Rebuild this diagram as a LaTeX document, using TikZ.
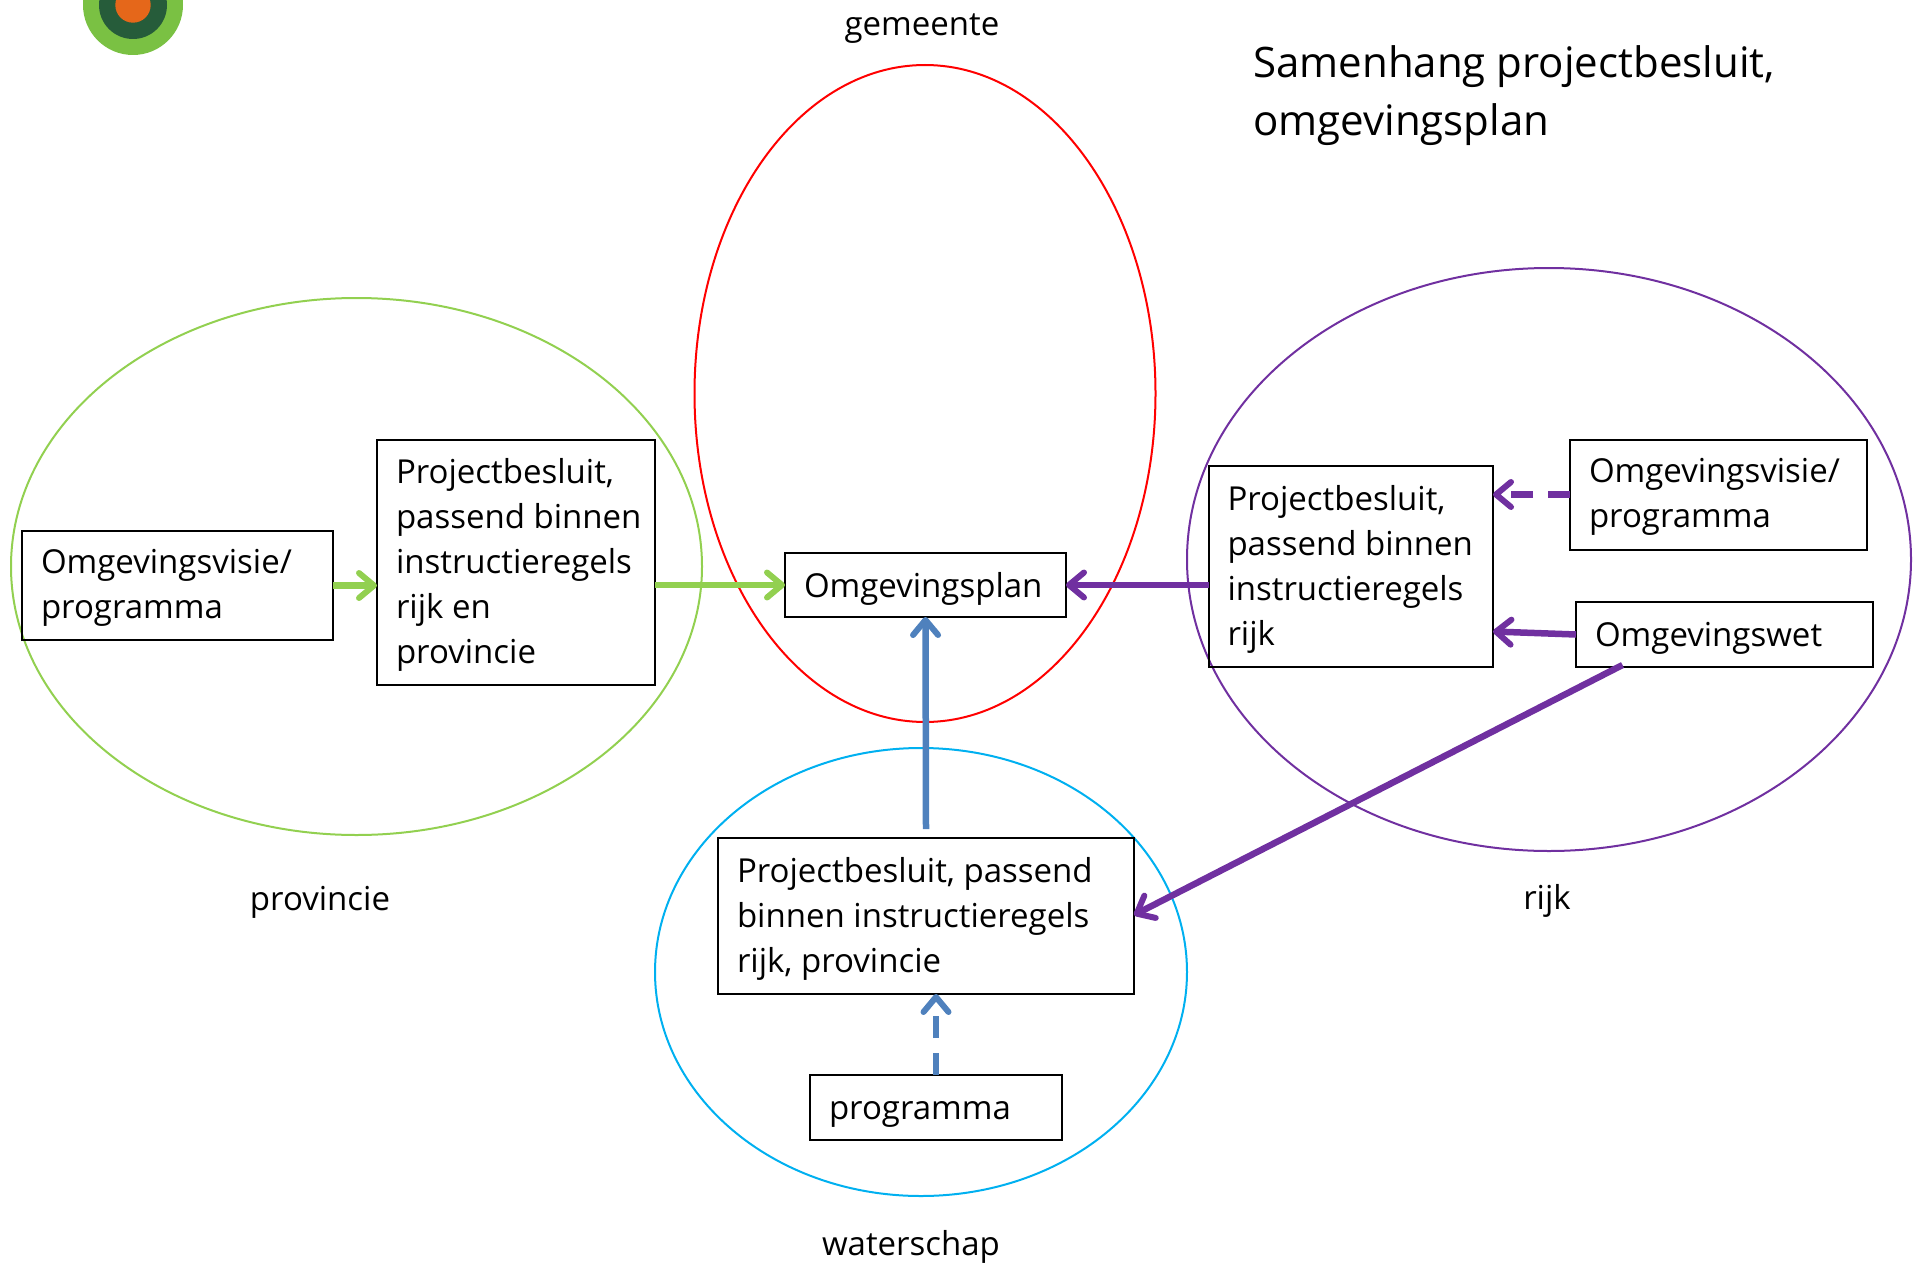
\documentclass[tikz,border=0pt]{standalone}
\usepackage{fontspec}
\setmainfont{Open Sans}
\usetikzlibrary{arrows.meta,shapes.geometric,calc}
\definecolor{cgreen}{HTML}{92D050}
\definecolor{cpurple}{HTML}{7030A0}
\definecolor{cblue}{HTML}{4F81BD}
\definecolor{ccyan}{HTML}{00B0F0}
\definecolor{lgreen}{HTML}{7AC143}
\definecolor{ldark}{HTML}{265C3A}
\definecolor{lorange}{HTML}{E5671A}
\tikzset{
  x=1pt,y=-1pt,
  bodyfont/.style={font=\fontsize{33}{45}\selectfont},
  infobox/.style={draw=black,line width=2pt,rectangle,inner sep=0pt,outer sep=0pt},
  boxtext/.style={inner sep=0pt,outer sep=0pt,align=left,anchor=west,bodyfont},
  zone/.style={ellipse,draw,line width=2pt,inner sep=0pt,outer sep=0pt},
  label text/.style={bodyfont,inner sep=0pt},
  flow/.style={line width=6.5pt,-{Straight Barb[length=15pt,width=25pt,line width=6pt,round]}},
  dashflow/.style={flow,dash pattern=on 22pt off 15pt},
}
\newcommand{\boxat}[7][2.5]{% shift, name, x0, y0, x1, y1, text
  \node[infobox,minimum width=#5pt-#3pt,minimum height=#6pt-#4pt] (#2) at ({(#3+#5)/2},{(#4+#6)/2}) {};
  \node[boxtext] (#2text) at ($(#2.west)+(19,#1)$) {#7};}
\begin{document}
\begin{tikzpicture}
\clip (0,0) rectangle (1917,1263);
% logo
\fill[lgreen] (133,5) circle (50);
\fill[ldark] (133,5) circle (34);
\fill[lorange] (133,5) circle (17.7);
% zones
\node[zone,draw=cgreen,minimum width=691pt,minimum height=537pt] (zprov) at (356.5,566.5) {};
\node[zone,draw=red,minimum width=461pt,minimum height=657pt] (zgem) at (925,393.5) {};
\node[zone,draw=cpurple,minimum width=724pt,minimum height=583pt] (zrijk) at (1549,559.5) {};
\node[zone,draw=ccyan,minimum width=532pt,minimum height=448pt] (zwater) at (921,972) {};
% boxes
\boxat{provvisie}{22}{531}{333}{640}{Omgevingsvisie/\\programma}
\boxat{provpb}{377}{440}{655}{685}{Projectbesluit,\\passend binnen\\instructieregels\\rijk en\\provincie}
\boxat[4]{plan}{785}{553}{1066}{617}{Omgevingsplan}
\boxat{rijkpb}{1208.5}{466}{1493}{667}{Projectbesluit,\\passend binnen\\instructieregels\\rijk}
\boxat{rijkvisie}{1570}{439.5}{1867}{549.5}{Omgevingsvisie/\\programma}
\boxat[4]{wet}{1576}{602}{1873}{667}{Omgevingswet}
\boxat{waterpb}{718}{838}{1134}{994}{Projectbesluit, passend\\binnen instructieregels\\rijk, provincie}
\boxat[7]{prog}{810}{1075}{1062}{1140}{programma}
% labels
\node[label text] (lgem) at (922,29) {gemeente};
\node[label text] (lprov) at (320,902) {provincie};
\node[label text] (lrijk) at (1547,901) {rijk};
\node[label text] (lwater) at (911,1247) {waterschap};
\node[anchor=north west,inner sep=0pt,align=left,font=\fontsize{42}{58}\selectfont] (title) at (1253,45) {Samenhang projectbesluit,\\omgevingsplan};
% connectors
\draw[flow,cgreen] (provvisie.east) -- (provvisie.east -| provpb.west);
\draw[flow,cgreen] (provpb.east |- plan.west) -- (plan.west);
\draw[flow,cpurple] (rijkpb.west |- plan.east) -- (plan.east);
\draw[flow,cblue] ($(waterpb.north)+(0,-9)$) -- (plan.south);
\draw[dashflow,cblue] (prog.north) -- (prog.north |- waterpb.south);
\draw[dashflow,cpurple] (rijkvisie.west) -- (rijkvisie.west -| rijkpb.east);
\draw[flow,cpurple] (wet.west) -- ($(rijkpb.east)+(0,65)$);
\draw[flow,cpurple] ($(wet.south)+(-102,-2)$) -- ($(waterpb.east)+(0,-1)$);
\end{tikzpicture}
\end{document}
